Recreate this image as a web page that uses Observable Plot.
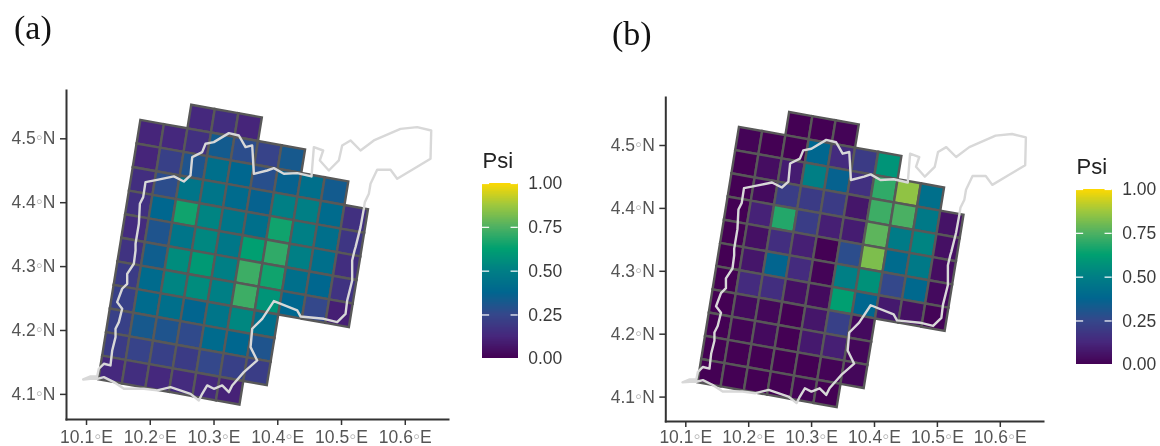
<!DOCTYPE html>
<html>
<head>
<meta charset="utf-8">
<script src="https://cdn.jsdelivr.net/npm/d3@7"></script>
<script src="https://cdn.jsdelivr.net/npm/@observablehq/plot@0.6"></script>
<style>
html,body{margin:0;padding:0;background:#fff;width:1160px;height:446px;overflow:hidden}
#page{position:relative;width:1160px;height:446px;filter:blur(0.45px)}
#page>*{position:absolute}
.tag{font-family:"Liberation Serif",serif;font-size:34px;color:#111;line-height:1}
svg{overflow:visible;background:none !important}
</style>
</head>
<body>
<div id="page"></div>
<script>
// Grid layout: first column of each row, and Psi values row by row (north to south)
const rowStart = [2, 0, 0, 0, 0, 0, 0, 0, 0, 0, 0, 0];
const psiA = [
  [.13, .15, .12],
  [.12, .13, .16, .33, .27, .23, .32],
  [.12, .22, .30, .42, .38, .28, .36, .42, .33],
  [.15, .27, .45, .45, .40, .36, .50, .50, .40, .16],
  [.16, .38, .65, .52, .45, .42, .65, .50, .42, .18],
  [.14, .30, .45, .53, .46, .62, .70, .50, .42, .15],
  [.17, .34, .55, .60, .50, .72, .65, .42, .38, .17],
  [.20, .40, .52, .55, .50, .72, .58, .38, .25, .10],
  [.22, .40, .42, .37, .45, .53, .42],
  [.22, .32, .30, .26, .40, .38, .30],
  [.20, .23, .22, .20, .25, .22, .21],
  [.13, .15, .13, .14, .13, .11]
];
const psiB = [
  [.00, .00, .01],
  [.01, .00, .00, .38, .14, .20, .58],
  [.00, .04, .09, .50, .36, .16, .70, .85, .42],
  [.00, .03, .21, .20, .20, .07, .72, .74, .47, .06],
  [.00, .11, .68, .21, .10, .09, .77, .48, .52, .05],
  [.00, .05, .15, .10, .00, .27, .82, .40, .47, .04],
  [.00, .07, .37, .14, .01, .50, .57, .25, .39, .03],
  [.00, .14, .15, .05, .03, .62, .38, .08, .05, .01],
  [.00, .03, .02, .00, .07, .22, .03],
  [.00, .01, .03, .00, .08, .10, .02],
  [.00, .00, .00, .00, .00, .01, .02],
  [.00, .00, .00, .00, .01, .00]
];
// Grid geometry in degrees: north-west corner of row 1, and the step of a column and a row
const gridLon = 10.1845, gridLat = 4.5296;
const colStep = [0.0369, -0.0066];
const rowStep = [-0.0060, -0.0369];
// Study-area boundary
const borderLon = [10.0948,10.1063,10.1167,10.1193,10.1272,10.1376,10.1403,10.1455,10.1455,10.1507,10.1559,10.1481,10.1559,10.1638,10.1638,10.1742,10.1769,10.1769,10.1821,10.1837,10.1889,10.1925,10.2108,10.2370,10.2527,10.2631,10.2658,10.2814,10.2867,10.2997,10.3233,10.3390,10.3494,10.3599,10.3625,10.3834,10.3939,10.4095,10.4305,10.4529,10.4566,10.4712,10.4660,10.4801,10.4958,10.5010,10.5141,10.5298,10.5507,10.5925,10.6187,10.6407,10.6396,10.6135,10.5873,10.5769,10.5559,10.5455,10.5429,10.5366,10.5350,10.5298,10.5220,10.5204,10.5167,10.5167,10.5089,10.5063,10.4932,10.4723,10.4357,10.4305,10.3939,10.3756,10.3599,10.3573,10.3677,10.3468,10.3285,10.3233,10.3128,10.2997,10.2893,10.2814,10.2762,10.2631,10.2318,10.2108,10.1899,10.1586,10.1429,10.1272,10.1167,10.1063,10.0948];
const borderLat = [4.1234,4.1281,4.1281,4.1401,4.1479,4.1453,4.1688,4.1896,4.2027,4.2131,4.2340,4.2444,4.2653,4.2731,4.2887,4.3044,4.3252,4.3357,4.3670,4.3983,4.4087,4.4322,4.4358,4.4411,4.4332,4.4426,4.4713,4.4791,4.4922,4.4948,4.5089,4.5052,4.4870,4.4896,4.4452,4.4504,4.4541,4.4452,4.4463,4.4411,4.4870,4.4817,4.4661,4.4504,4.4661,4.4896,4.4974,4.4817,4.4974,4.5156,4.5183,4.5130,4.4687,4.4531,4.4374,4.4515,4.4515,4.4296,4.4139,4.4009,4.3905,4.3618,4.3305,4.3252,4.3096,4.2783,4.2470,4.2261,4.2131,4.2183,4.2220,4.2314,4.2460,4.2183,4.2027,4.1740,4.1531,4.1348,4.1140,4.1035,4.1140,4.1088,4.1140,4.1009,4.0905,4.1009,4.1114,4.1062,4.1088,4.1088,4.1192,4.1270,4.1244,4.1244,4.1234];
// Axis ticks and colour legend
const lonTicks = [10.1, 10.2, 10.3, 10.4, 10.5, 10.6];
const latTicks = [4.1, 4.2, 4.3, 4.4, 4.5];
const legendTicks = [0, 0.25, 0.5, 0.75, 1];
const colorStops = [0, .125, .25, .375, .5, .625, .75, .875, 1];
const colorRamp = ["#440154","#46277c","#34488b","#00668f","#007f85","#00a070","#50b162","#a0c83c","#ffd900"];

const color = {type: "linear", domain: colorStops, range: colorRamp, clamp: true};
const axisInk = "#333333", labelInk = "#555555";
const sans = "'Liberation Sans', Arial, sans-serif";

function cellCorners(values) {
  const out = [];
  values.forEach((row, r) => row.forEach((v, k) => {
    const c = rowStart[r] + k, j = r - 1;
    [[0,0],[1,0],[1,1],[0,1]].forEach(([a, b]) => out.push({
      id: `${r}-${c}`, v,
      lon: gridLon + (c + a) * colStep[0] + (j + b) * rowStep[0],
      lat: gridLat + (c + a) * colStep[1] + (j + b) * rowStep[1]
    }));
  }));
  return out;
}
const border = borderLon.map((lon, i) => ({lon, lat: borderLat[i]}));

function panel(values, o) {
  const svg = Plot.plot({
    width: 580, height: 446,
    marginLeft: o.ml, marginRight: o.mr, marginTop: o.mt, marginBottom: o.mb,
    style: {fontFamily: sans, background: "transparent"},
    x: {domain: o.xd}, y: {domain: o.yd}, color,
    marks: [
      Plot.line(cellCorners(values), {x: "lon", y: "lat", z: "id", fill: "v", stroke: "#585858", strokeWidth: 2.4, curve: "linear-closed", strokeLinejoin: "miter", strokeMiterlimit: 4}),
      Plot.line(border, {x: "lon", y: "lat", stroke: "#d8d8d8", strokeWidth: 2.4, curve: "linear"}),
      Plot.axisX({ticks: lonTicks, tickFormat: d => d.toFixed(1) + "◦E", tickSize: 6, tickPadding: o.xpad, fontSize: 17.5, color: labelInk, stroke: axisInk, strokeWidth: 1.5, label: null}),
      Plot.axisY({ticks: latTicks, tickFormat: d => d.toFixed(1) + "◦N", tickSize: 6, tickPadding: 5, fontSize: 17.5, color: labelInk, stroke: axisInk, strokeWidth: 1.5, label: null}),
      Plot.frame({anchor: "left", stroke: axisInk, strokeWidth: 2}),
      Plot.frame({anchor: "bottom", stroke: axisInk, strokeWidth: 2})
    ]
  });
  svg.querySelectorAll("text").forEach(t => {
    if (t.textContent.includes("◦")) {
      const [a, b] = t.textContent.split("◦");
      t.textContent = "";
      const ns = "http://www.w3.org/2000/svg";
      const s = document.createElementNS(ns, "tspan"); s.textContent = a; t.appendChild(s);
      const m = document.createElementNS(ns, "tspan"); m.textContent = "◦"; m.setAttribute("fill", "#b5b5b5"); m.setAttribute("font-size", "20"); t.appendChild(m);
      const e = document.createElementNS(ns, "tspan"); e.textContent = b; t.appendChild(e);
    }
  });
  svg.style.left = o.left + "px"; svg.style.top = "0px";
  return svg;
}

function legend(left, top) {
  const steps = d3.range(0, 1, 0.004);
  const svg = Plot.plot({
    width: 100, height: 230,
    marginLeft: 12, marginRight: 52.3, marginTop: 33, marginBottom: 21.7,
    style: {fontFamily: sans, background: "transparent", overflow: "visible"},
    x: {domain: [0, 1], axis: null}, y: {domain: [0, 1]}, color,
    marks: [
      Plot.rect(steps, {x1: 0, x2: 1, y1: d => d, y2: d => Math.min(1, d + 0.006), fill: d => d, shapeRendering: "crispEdges"}),
      Plot.ruleY(legendTicks, {x1: 0, x2: 0.2, stroke: "#ffffff", strokeWidth: 1.2}),
      Plot.ruleY(legendTicks, {x1: 0.8, x2: 1, stroke: "#ffffff", strokeWidth: 1.2}),
      Plot.axisY({anchor: "right", ticks: legendTicks, tickFormat: d => d.toFixed(2), tickSize: 0, tickPadding: 10, fontSize: 17.5, color: "#3a3a3a", label: null}),
      Plot.text(["Psi"], {frameAnchor: "top-left", dy: -31, dx: 0, fontSize: 22, textAnchor: "start", fill: "#222222"})
    ]
  });
  svg.style.left = left + "px"; svg.style.top = top + "px";
  return svg;
}

function tag(text, x, y) {
  const d = document.createElement("div");
  d.className = "tag"; d.textContent = text;
  d.style.left = x + "px"; d.style.top = y + "px";
  return d;
}

const page = document.getElementById("page");
page.append(
  panel(psiA, {left: 0, xpad: 5, ml: 66, mr: 132, mt: 90, mb: 27, xd: [10.0686, 10.6678], yd: [4.0607, 4.5756]}),
  panel(psiB, {left: 580, xpad: 3, ml: 85.3, mr: 117, mt: 97, mb: 25, xd: [10.0682, 10.6687], yd: [4.0612, 4.5763]}),
  legend(470, 150),
  legend(1064, 156.3),
  tag("(a)", 14, 11),
  tag("(b)", 612, 17)
);
</script>
</body>
</html>
